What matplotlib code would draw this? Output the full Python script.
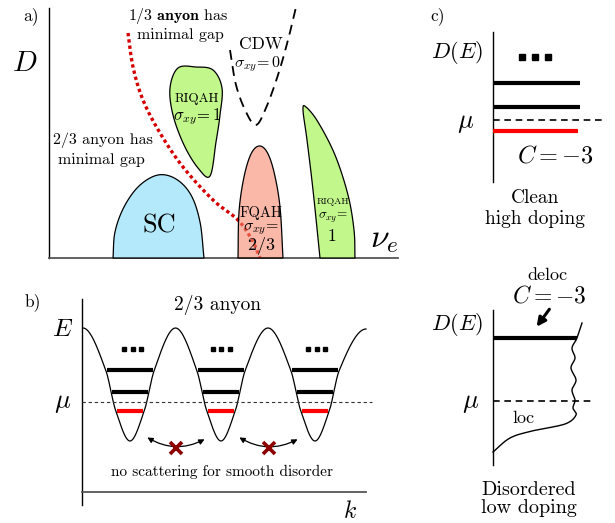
import numpy as np
import matplotlib
matplotlib.use("Agg")
import matplotlib.pyplot as plt
from matplotlib.patches import FancyArrowPatch

plt.rcParams['font.family'] = 'serif'
plt.rcParams['font.serif'] = ['cmr10', 'DejaVu Serif']
plt.rcParams['mathtext.fontset'] = 'cm'
plt.rcParams['axes.unicode_minus'] = False

# ---- panel a: phase diagram outlines (pixel coords of the sketch) ----
sc_outline = [(113, 258), (115, 232), (124, 207), (139, 186), (158, 175),
              (176, 179), (191, 195), (200, 222), (204, 258)]
fqah_outline = [(238, 258), (239, 212), (244, 177), (251, 154), (259, 146),
                (267, 152), (274, 172), (280, 207), (283, 258)]
riqah_left = [(178, 68), (196, 67), (213, 70), (222, 88), (220, 115),
              (216, 142), (210, 176), (198, 168), (184, 145), (173, 115),
              (170, 88)]
riqah_right = [(320, 258), (313, 190), (307, 140), (303, 110), (306, 107),
               (318, 122), (335, 155), (348, 195), (354, 230), (355, 258)]
cdw_curve = [(230, 50), (236, 85), (246, 112), (256, 125), (266, 108),
             (278, 75), (288, 40), (297, 3)]
min_gap_curve = [(128, 33), (133, 67), (143, 100), (160, 133), (183, 167),
                 (213, 200), (238, 220), (252, 240), (260, 258)]

# ---- panel b: band with three minima ----
band_x = [83, 106, 115.5, 130, 144.5, 154,
          175.5, 197, 206.5, 221, 235.5, 245,
          268, 291, 300.5, 315, 329.5, 339, 366]
band_y = [328, 371, 410, 441, 410, 371,
          328, 371, 410, 441, 410, 371,
          328, 371, 410, 441, 410, 371, 329]
well_min = [130, 221, 315]
level_y = [370, 392, 411]
level_col = ['black', 'black', 'red']
dots_x = [132.5, 221, 316.5]

# ---- panel c ----
clean_levels = [83, 107, 131]
clean_cols = ['black', 'black', 'red']
dos_curve = [(582, 323), (577, 338), (572, 348), (575, 358), (571, 368),
             (576, 380), (572, 390), (575, 400), (573, 408), (576, 415),
             (565, 424), (532, 431), (510, 438), (493, 452)]


def spline(pts, n=24, closed=False):
    # catmull-rom through the points
    p = np.asarray(pts, float)
    if closed:
        P = np.vstack([p[-1], p, p[0], p[1]])
    else:
        P = np.vstack([2 * p[0] - p[1], p, 2 * p[-1] - p[-2]])
    out = []
    t = np.linspace(0, 1, n, endpoint=False)[:, None]
    for i in range(1, len(P) - 2):
        p0, p1, p2, p3 = P[i - 1], P[i], P[i + 1], P[i + 2]
        out.append(0.5 * (2 * p1 + (-p0 + p2) * t
                          + (2 * p0 - 5 * p1 + 4 * p2 - p3) * t ** 2
                          + (-p0 + 3 * p1 - 3 * p2 + p3) * t ** 3))
    out.append(P[-2][None])
    return np.vstack(out)


def pchip(x, y, xs):
    # monotone cubic through (x, y), flat at the ends
    x = np.asarray(x, float)
    y = np.asarray(y, float)
    h = np.diff(x)
    d = np.diff(y) / h
    m = np.zeros_like(y)
    for k in range(1, len(x) - 1):
        if d[k - 1] * d[k] > 0:
            w1 = 2 * h[k] + h[k - 1]
            w2 = h[k] + 2 * h[k - 1]
            m[k] = (w1 + w2) / (w1 / d[k - 1] + w2 / d[k])
    i = np.clip(np.searchsorted(x, xs) - 1, 0, len(x) - 2)
    t = (xs - x[i]) / h[i]
    h00 = 2 * t ** 3 - 3 * t ** 2 + 1
    h10 = t ** 3 - 2 * t ** 2 + t
    h01 = -2 * t ** 3 + 3 * t ** 2
    h11 = t ** 3 - t ** 2
    return h00 * y[i] + h10 * h[i] * m[i] + h01 * y[i + 1] + h11 * h[i] * m[i + 1]


fig = plt.figure(figsize=(6.15, 5.23), dpi=100)
ax = fig.add_axes([0, 0, 1, 1])
ax.set_xlim(0, 615)
ax.set_ylim(523, 0)
ax.axis('off')

# ================= panel a =================
ax.text(31, 16, 'a)', fontsize=12.5, ha='center', va='center')
ax.plot([49, 49], [8, 258], color='black', lw=1.0)
ax.plot([49, 398], [258, 258], color='#555555', lw=1.3)
ax.text(25, 64, '$D$', fontsize=21, ha='center', va='center')
ax.text(384, 240, r'$\nu_e$', fontsize=24, ha='center', va='center')

red = spline(min_gap_curve)
ax.plot(red[:, 0], red[:, 1], color='#d40000', lw=2.4,
        linestyle=(0, (1, 0.9)), zorder=2)

s = spline(sc_outline)
ax.fill(s[:, 0], s[:, 1], facecolor='#b4e9fb', edgecolor='black', lw=0.9, zorder=3)
s = spline(fqah_outline)
ax.fill(s[:, 0], s[:, 1], facecolor=(0.97, 0.54, 0.44, 0.6), edgecolor='black',
        lw=0.9, zorder=3)
s = spline(riqah_left, closed=True)
ax.fill(s[:, 0], s[:, 1], facecolor='#c2f78b', edgecolor='black', lw=0.9, zorder=3)
s = spline(riqah_right)
ax.fill(s[:, 0], s[:, 1], facecolor='#c2f78b', edgecolor='black', lw=0.9, zorder=3)

c = spline(cdw_curve)
ax.plot(c[:, 0], c[:, 1], color='black', lw=1.3, linestyle=(0, (5.5, 3.5)))

ax.text(159, 226, 'SC', fontsize=19, ha='center', va='center', zorder=4)
ax.text(261, 213, 'FQAH', fontsize=10.5, ha='center', va='center', zorder=4)
ax.text(261, 229, r'$\sigma_{xy}\!=$', fontsize=11.5, ha='center', va='center', zorder=4)
ax.text(261, 246, '$2/3$', fontsize=13, ha='center', va='center', zorder=4)
ax.text(197, 99, 'RIQAH', fontsize=9.5, ha='center', va='center', zorder=4)
ax.text(197, 117, r'$\sigma_{xy}\!=1$', fontsize=12, ha='center', va='center', zorder=4)
ax.text(333, 202, 'RIQAH', fontsize=7, ha='center', va='center', zorder=4)
ax.text(333, 218, r'$\sigma_{xy}\!=$', fontsize=9.5, ha='center', va='center', zorder=4)
ax.text(332, 236, '$1$', fontsize=12.5, ha='center', va='center', zorder=4)
ax.text(261, 44, 'CDW', fontsize=12.5, ha='center', va='center')
ax.text(258, 64, r'$\sigma_{xy}\!=0$', fontsize=11.5, ha='center', va='center')
ax.text(178, 16, r'$\mathbf{1/3\ anyon}$ has', fontsize=11.5, ha='center', va='center')
ax.text(180, 35, 'minimal gap', fontsize=11.5, ha='center', va='center')
ax.text(103, 140, '2/3 anyon has', fontsize=11.5, ha='center', va='center')
ax.text(101, 160, 'minimal gap', fontsize=11.5, ha='center', va='center')

# ================= panel b =================
ax.text(33, 302, 'b)', fontsize=12.5, ha='center', va='center')
ax.plot([82, 82], [299, 505], color='black', lw=1.0)
ax.plot([82, 366], [492, 492], color='#555555', lw=1.3)
ax.text(63, 330, '$E$', fontsize=18, ha='center', va='center')
ax.text(63, 403, r'$\mu$', fontsize=19, ha='center', va='center')
ax.text(350, 512, '$k$', fontsize=17, ha='center', va='center')
ax.text(218, 305, '2/3 anyon', fontsize=14, ha='center', va='center')

kx = np.linspace(band_x[0], band_x[-1], 800)
ky = pchip(band_x, band_y, kx)
ax.plot(kx, ky, color='black', lw=0.9)
ax.plot([82, 372], [402, 402], color='#333333', lw=0.8, linestyle=(0, (3, 2.5)))

for k in range(3):
    m = well_min[k]
    lm = (kx >= m - 46) & (kx <= m)
    rm = (kx >= m) & (kx <= m + 46)
    for y, col in zip(level_y, level_col):
        xl = np.interp(y, ky[lm], kx[lm])
        xr = np.interp(y, ky[rm][::-1], kx[rm][::-1])
        ax.plot([xl + 1, xr - 1], [y, y], color=col, lw=3.0, solid_capstyle='butt')
    ax.plot([dots_x[k] - 8.5, dots_x[k], dots_x[k] + 8.5], [349] * 3, 's',
            color='black', ms=3.2)

for x0, x1 in [(145, 207), (237, 300)]:
    arr = FancyArrowPatch((x0, 436), (x1, 438), arrowstyle='<|-|>',
                          mutation_scale=8, connectionstyle='arc3,rad=0.3',
                          color='black', lw=0.9)
    ax.add_patch(arr)
    ax.plot([(x0 + x1) / 2], [448], 'x', color='#8b0000', ms=9, mew=2.6)
ax.text(222, 472, 'no scattering for smooth disorder', fontsize=11,
        ha='center', va='center')

# ================= panel c =================
ax.text(438, 16, 'c)', fontsize=12.5, ha='center', va='center')
ax.plot([493, 493], [32, 182], color='black', lw=1.0)
ax.text(457, 52, '$D(E)$', fontsize=16, ha='center', va='center')
ax.text(466, 123, r'$\mu$', fontsize=19, ha='center', va='center')
ax.plot([522, 535, 548], [57] * 3, 's', color='black', ms=4)
for y, col in zip(clean_levels, clean_cols):
    ax.plot([493, 580 if col == 'black' else 578], [y, y], color=col, lw=3.0,
            solid_capstyle='butt')
ax.plot([493, 602], [120, 120], color='black', lw=1.2, linestyle=(0, (4, 2.8)))
ax.text(555, 156, '$C=-3$', fontsize=17.5, ha='center', va='center')
ax.text(535, 198, 'Clean', fontsize=14, ha='center', va='center')
ax.text(535, 219, 'high doping', fontsize=14, ha='center', va='center')

ax.text(547, 275, 'deloc', fontsize=13, ha='center', va='center')
ax.text(549, 296, '$C=-3$', fontsize=17, ha='center', va='center')
ax.add_patch(FancyArrowPatch((551, 307), (535, 329), arrowstyle='-|>',
                             mutation_scale=13, color='black', lw=2.2))
ax.plot([493, 493], [310, 465], color='black', lw=1.0)
ax.text(457, 325, '$D(E)$', fontsize=16, ha='center', va='center')
ax.text(471, 403, r'$\mu$', fontsize=19, ha='center', va='center')
ax.plot([493, 577], [338, 338], color='black', lw=3.0, solid_capstyle='butt')
d = spline(dos_curve, n=12)
ax.plot(d[:, 0], d[:, 1], color='black', lw=1.0)
ax.plot([493, 593], [401, 401], color='black', lw=1.2, linestyle=(0, (4, 2.8)))
ax.text(523, 418, 'loc', fontsize=13, ha='center', va='center')
ax.text(529, 490, 'Disordered', fontsize=14.5, ha='center', va='center')
ax.text(529, 508, 'low doping', fontsize=14.5, ha='center', va='center')

fig.savefig('out.png', dpi=100)
